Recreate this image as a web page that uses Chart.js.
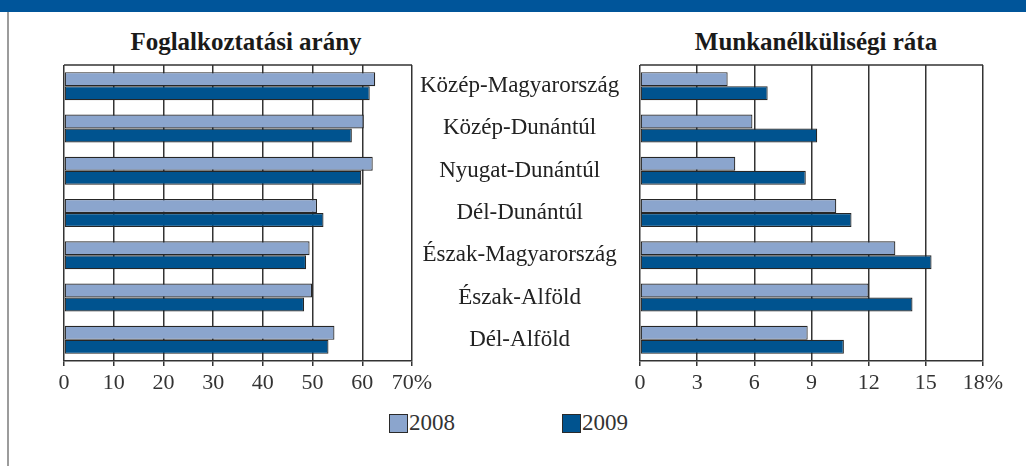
<!DOCTYPE html>
<html>
<head>
<meta charset="utf-8">
<script src="https://cdn.jsdelivr.net/npm/chart.js@4.4.1/dist/chart.umd.min.js"></script>
<style>
  html, body { margin: 0; padding: 0; background: #fff; }
  body { width: 1026px; height: 466px; position: relative; overflow: hidden; font-family: 'Liberation Serif', 'Times New Roman', serif; color: #222; }
  #band { position: absolute; left: 0; top: 0; width: 1026px; height: 12px; background: #00559A; }
  #edge { position: absolute; left: 7px; top: 12px; width: 2px; height: 454px; background: #9c9c9c; }
  .title { position: absolute; top: 29px; line-height: 25px; font-weight: bold; font-size: 25px; white-space: nowrap; transform: translateX(-50%); color: #1a1a1a; }
  #c1 { position: absolute; left: 0; top: 60px; }
  #c2 { position: absolute; left: 600px; top: 60px; }
  #legend { position: absolute; top: 413px; left: 0; width: 1026px; height: 20px; }
  .item { position: absolute; top: 0; height: 20px; display: flex; align-items: center; font-size: 23px; line-height: 20px; color: #333; }
  .sw { width: 17px; height: 17px; border: 1.5px solid #2a2a2a; margin-right: 1px; }
</style>
</head>
<body>
<div id="band"></div>
<div id="edge"></div>
<div class="title" style="left:246px">Foglalkoztatási arány</div>
<div class="title" style="left:816px">Munkanélküliségi ráta</div>
<canvas id="c1" width="638" height="341"></canvas>
<canvas id="c2" width="426" height="341"></canvas>
<div id="legend"></div>
<script>
const categories = ['Közép-Magyarország','Közép-Dunántúl','Nyugat-Dunántúl','Dél-Dunántúl','Észak-Magyarország','Észak-Alföld','Dél-Alföld'];
const seriesNames = ['2008','2009'];
const employment2008 = [62.6, 60.3, 62.1, 50.9, 49.4, 49.9, 54.4];
const employment2009 = [61.5, 57.9, 59.8, 52.2, 48.7, 48.3, 53.2];
const unemployment2008 = [4.6, 5.9, 5.0, 10.3, 13.4, 12.0, 8.8];
const unemployment2009 = [6.7, 9.3, 8.7, 11.1, 15.3, 14.3, 10.7];
const leftTickLabels = ['0','10','20','30','40','50','60','70%'];
const rightTickLabels = ['0','3','6','9','12','15','18%'];

const colors = ['#8BA5CD', '#00538F'];
const gridColor = '#333333';
const serif = "'Liberation Serif', 'Times New Roman', serif";

const frame = {
  id: 'frame',
  afterDatasetsDraw(chart) {
    const { ctx, chartArea: a } = chart;
    ctx.save();
    ctx.strokeStyle = gridColor;
    ctx.lineWidth = 1.5;
    ctx.beginPath();
    ctx.moveTo(a.left, a.top);
    ctx.lineTo(a.right, a.top);
    ctx.stroke();
    ctx.restore();
  }
};

function makeDatasets(d1, d2) {
  return [d1, d2].map((d, i) => ({
    label: seriesNames[i],
    data: d,
    backgroundColor: colors[i],
    borderColor: '#262626',
    borderWidth: 1.2,
    borderSkipped: false,
    categoryPercentage: 0.662,
    barPercentage: 1.0
  }));
}

function xScale(max, step, labels) {
  return {
    type: 'linear', position: 'bottom', min: 0, max: max,
    ticks: { stepSize: step, color: '#333', font: { family: serif, size: 22 }, padding: 4,
      callback: (v, idx) => labels[idx] },
    grid: { color: gridColor, lineWidth: 1.5, tickLength: 5, drawTicks: true },
    border: { color: gridColor, width: 1.5 },
    afterFit: s => { s.height = 40; s.paddingTop = 0; s.paddingBottom = 0; }
  };
}

const common = {
  indexAxis: 'y',
  responsive: false,
  maintainAspectRatio: false,
  animation: false,
  events: [],
  plugins: { legend: { display: false }, tooltip: { enabled: false }, title: { display: false } }
};

new Chart(document.getElementById('c1'), {
  type: 'bar',
  data: { labels: categories, datasets: makeDatasets(employment2008, employment2009) },
  options: Object.assign({}, common, {
    layout: { padding: { left: 64, top: 5, right: 0, bottom: 0 } },
    scales: {
      x: xScale(70, 10, leftTickLabels),
      y: {
        position: 'right',
        grid: { display: false, drawTicks: false },
        border: { display: false },
        ticks: { color: '#222', font: { family: serif, size: 23 }, crossAlign: 'center', padding: 8 },
        afterFit: s => { s.width = 226; s.paddingTop = 0; s.paddingBottom = 0; }
      }
    }
  }),
  plugins: [frame]
});

new Chart(document.getElementById('c2'), {
  type: 'bar',
  data: { labels: categories, datasets: makeDatasets(unemployment2008, unemployment2009) },
  options: Object.assign({}, common, {
    layout: { padding: { left: 40, top: 5, right: 43, bottom: 0 } },
    scales: {
      x: xScale(18, 3, rightTickLabels),
      y: { display: false }
    }
  }),
  plugins: [frame]
});

const legend = document.getElementById('legend');
const legendX = [389, 562];
seriesNames.forEach((n, i) => {
  const it = document.createElement('div');
  it.className = 'item';
  it.style.left = legendX[i] + 'px';
  const sw = document.createElement('div');
  sw.className = 'sw';
  sw.style.background = colors[i];
  const tx = document.createElement('span');
  tx.textContent = n;
  it.appendChild(sw); it.appendChild(tx);
  legend.appendChild(it);
});
</script>
</body>
</html>
